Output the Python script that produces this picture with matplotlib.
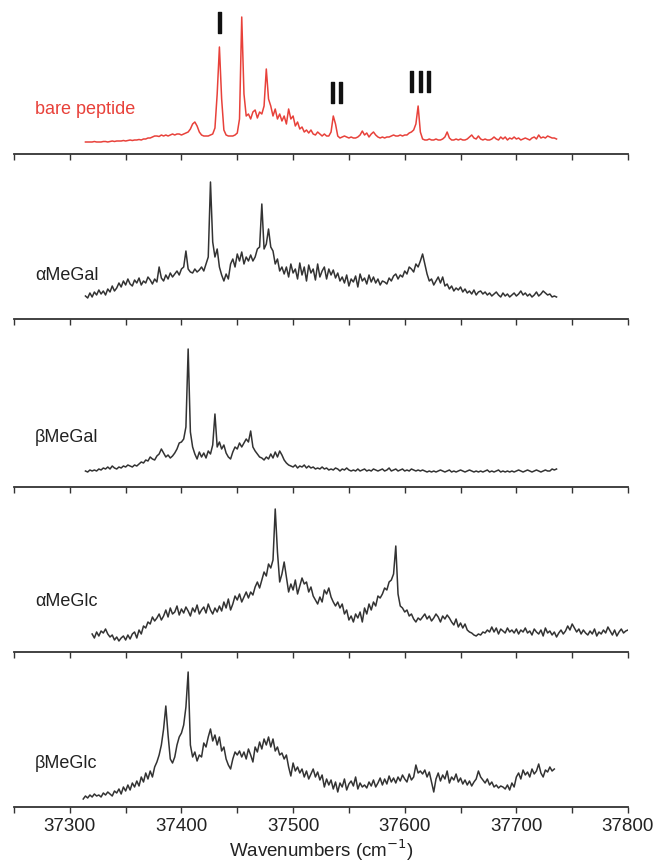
import numpy as np
import matplotlib
matplotlib.use("Agg")
import matplotlib.pyplot as plt
import matplotlib.patheffects as pe

plt.rcParams['font.family'] = ['Liberation Sans', 'DejaVu Sans']

# ---------------- data (relative intensity, arbitrary units) ----------------
labels = ["bare peptide", "\u03b1MeGal", "\u03b2MeGal", "\u03b1MeGlc", "\u03b2MeGlc"]
step = 2.0

bare_start = 37314
bare = [
    12, 12, 12, 12, 12.5, 12, 12, 12, 12.5, 12.5,      # 37314
    12, 12.5, 13, 12.5, 13, 13, 13, 13.5, 13, 13.5,    # 37334
    14, 13.5, 14, 14, 14.5, 14, 15, 15, 16, 16,        # 37354
    17, 18, 18, 17.5, 19, 18, 19, 18, 19, 20,          # 37374
    19, 20, 20, 19, 20, 21, 22, 25, 30, 32,            # 37394
    28, 22, 19, 18, 18, 18, 19, 20, 26, 60,            # 37414
    107, 55, 24, 19, 18, 18, 18, 19, 21, 35,           # 37434
    137, 60, 38, 40, 35, 42, 44, 36, 42, 40,           # 37454
    48, 85, 55, 48, 38, 45, 35, 40, 33, 38,            # 37474
    30, 45, 35, 38, 28, 32, 25, 27, 22, 24,            # 37494
    21, 24, 20, 19, 22, 20, 18, 20, 18, 18,            # 37514
    22, 38, 30, 18, 16, 17, 18, 17, 16, 17,            # 37534
    16, 16, 17, 19, 23, 19, 21, 17, 20, 22,            # 37554
    19, 17, 16, 17, 16, 17, 17, 18, 19, 18,            # 37574
    18, 19, 18, 19, 19, 21, 22, 24, 30, 48,            # 37594
    22, 15, 14, 14, 15, 14, 14, 15, 14, 14,            # 37614
    15, 17, 22, 16, 14, 14, 15, 14, 15, 14,            # 37634
    14, 15, 17, 19, 16, 15, 18, 15, 14, 15,            # 37654
    14, 14, 15, 17, 15, 14, 17, 15, 17, 14,            # 37674
    16, 15, 17, 15, 16, 14, 15, 16, 15, 14,            # 37694
    16, 17, 15, 19, 16, 17, 16, 18, 17, 16,            # 37714
    16, 15,                                            # 37734
]

agal_start = 37314
agal = [
    23, 21, 26, 22, 27, 24, 29, 25, 28, 24,   # 37314
    30, 27, 33, 28, 31, 36, 32, 38, 34, 40,   # 37334
    35, 33, 39, 36, 41, 34, 38, 36, 42, 39,   # 37354
    35, 40, 37, 52, 41, 38, 44, 40, 46, 42,   # 37374
    45, 48, 44, 50, 52, 68, 50, 47, 46, 50,   # 37394
    47, 49, 52, 48, 55, 62, 137, 77, 62, 70,  # 37414
    52, 44, 38, 45, 40, 55, 60, 52, 65, 58,   # 37434
    67, 55, 62, 58, 64, 58, 62, 70, 72, 115,  # 37454
    70, 75, 90, 72, 68, 55, 60, 48, 52, 45,   # 37474
    52, 42, 55, 46, 50, 40, 56, 44, 52, 38,   # 37494
    54, 46, 50, 39, 55, 42, 48, 52, 40, 50,   # 37514
    44, 49, 41, 46, 38, 42, 36, 44, 33, 40,   # 37534
    37, 43, 32, 45, 38, 41, 35, 44, 37, 42,   # 37554
    36, 40, 34, 38, 37, 35, 41, 38, 43, 45,   # 37574
    40, 44, 42, 48, 45, 52, 50, 47, 55, 52,   # 37594
    58, 65, 55, 45, 38, 40, 34, 38, 42, 36,   # 37614
    42, 33, 35, 30, 33, 28, 31, 29, 32, 27,   # 37634
    30, 26, 28, 25, 29, 24, 27, 28, 25, 27,   # 37654
    24, 26, 23, 25, 27, 24, 22, 26, 23, 25,   # 37674
    22, 24, 26, 23, 25, 28, 24, 26, 23, 25,   # 37694
    22, 24, 27, 23, 25, 28, 26, 24, 25, 22,   # 37714
    23, 22,                                   # 37734
]

bgal_start = 37314
bgal = [
    16, 15, 17, 16, 17, 16, 18, 17, 19, 18,   # 37314
    20, 18, 21, 19, 18, 20, 19, 21, 20, 22,   # 37334
    21, 20, 22, 21, 23, 25, 24, 27, 26, 30,   # 37354
    28, 27, 31, 33, 38, 34, 30, 32, 29, 31,   # 37374
    34, 38, 44, 45, 48, 60, 138, 55, 40, 33,  # 37394
    28, 35, 30, 34, 29, 36, 33, 42, 73, 40,   # 37414
    45, 38, 42, 34, 30, 28, 35, 40, 38, 44,   # 37434
    40, 44, 48, 45, 56, 40, 36, 33, 30, 29,   # 37454
    27, 30, 28, 33, 29, 35, 30, 36, 32, 27,   # 37474
    24, 22, 21, 20, 22, 19, 21, 20, 22, 19,   # 37494
    21, 19, 20, 18, 19, 18, 20, 18, 19, 17,   # 37514
    18, 17, 19, 18, 16, 18, 17, 19, 17, 16,   # 37534
    17, 16, 18, 16, 17, 18, 16, 17, 16, 18,   # 37554
    17, 16, 17, 18, 16, 17, 19, 16, 17, 18,   # 37574
    16, 17, 18, 16, 17, 16, 18, 17, 16, 17,   # 37594
    16, 17, 16, 15, 16, 15, 16, 15, 16, 17,   # 37614
    16, 15, 16, 17, 15, 16, 15, 16, 17, 16,   # 37634
    15, 16, 17, 16, 15, 16, 15, 16, 15, 16,   # 37654
    17, 15, 16, 15, 16, 17, 15, 16, 15, 16,   # 37674
    15, 16, 15, 16, 17, 16, 15, 16, 17, 16,   # 37694
    15, 16, 17, 16, 15, 16, 17, 16, 16, 18,   # 37714
    17, 18,                                   # 37734
]

aglc_start = 37320
aglc = [
    18, 14, 20, 16, 21, 19, 23, 18, 15, 17,    # 37320
    12, 15, 11, 14, 16, 12, 17, 13, 18, 20,    # 37340
    14, 22, 18, 26, 24, 30, 28, 35, 31, 34,    # 37360
    38, 32, 36, 42, 35, 44, 38, 40, 46, 37,    # 37380
    43, 39, 45, 41, 36, 44, 40, 47, 38, 42,    # 37400
    45, 39, 48, 42, 38, 44, 40, 46, 41, 50,    # 37420
    44, 53, 42, 48, 56, 52, 58, 50, 55, 60,    # 37440
    54, 60, 57, 65, 70, 64, 72, 80, 76, 88,    # 37460
    84, 92, 143, 100, 70, 78, 90, 75, 60, 68,  # 37480
    62, 72, 58, 66, 74, 68, 70, 60, 65, 56,    # 37500
    52, 48, 55, 50, 62, 58, 64, 55, 50, 46,    # 37520
    50, 44, 48, 38, 42, 32, 36, 30, 38, 34,    # 37540
    40, 30, 44, 38, 48, 42, 50, 46, 56, 54,    # 37560
    58, 64, 62, 70, 72, 78, 106, 58, 46, 44,   # 37580
    40, 42, 36, 38, 33, 30, 34, 32, 35, 38,    # 37600
    33, 36, 31, 34, 38, 35, 30, 36, 33, 37,    # 37620
    34, 30, 27, 33, 25, 29, 24, 28, 22, 20,    # 37640
    19, 17, 16, 18, 17, 20, 19, 22, 20, 25,    # 37660
    20, 24, 18, 23, 21, 19, 24, 20, 22, 19,    # 37680
    23, 18, 22, 20, 24, 19, 21, 17, 23, 20,    # 37700
    18, 22, 16, 24, 19, 21, 17, 20, 15, 19,    # 37720
    22, 18, 21, 26, 22, 28, 24, 20, 23, 18,    # 37740
    22, 19, 17, 21, 18, 23, 16, 20, 18, 22,    # 37760
    19, 25, 21, 17, 22, 16, 20, 23, 19, 21,    # 37780
    22,                                        # 37800
]

bglc_start = 37312
bglc = [
    8, 11, 9, 12, 10, 13, 11, 12, 10, 14,       # 37312
    12, 15, 13, 11, 16, 14, 18, 13, 20, 16,     # 37332
    22, 17, 24, 20, 26, 21, 30, 25, 34, 28,     # 37352
    36, 30, 40, 45, 52, 62, 78, 101, 72, 48,    # 37372
    44, 50, 62, 70, 74, 82, 100, 135, 62, 50,   # 37392
    55, 46, 52, 50, 64, 60, 70, 78, 66, 72,     # 37412
    62, 70, 56, 60, 48, 42, 38, 48, 55, 52,     # 37432
    56, 50, 55, 48, 58, 52, 45, 60, 55, 65,     # 37452
    58, 68, 62, 70, 60, 68, 56, 60, 52, 54,     # 37472
    48, 52, 40, 31, 44, 36, 40, 34, 38, 30,     # 37492
    36, 28, 33, 38, 30, 35, 27, 32, 20, 28,     # 37512
    22, 27, 18, 25, 15, 24, 20, 28, 17, 23,     # 37532
    26, 21, 30, 18, 24, 20, 22, 19, 25, 21,     # 37552
    27, 20, 24, 29, 22, 28, 23, 31, 25, 29,     # 37572
    24, 30, 26, 32, 28, 25, 33, 27, 30, 42,     # 37592
    34, 36, 33, 37, 30, 35, 25, 15, 28, 34,     # 37612
    26, 32, 28, 36, 24, 30, 27, 33, 25, 29,     # 37632
    23, 27, 22, 26, 21, 25, 28, 36, 30, 27,     # 37652
    24, 28, 22, 25, 20, 22, 19, 21, 20, 18,     # 37672
    22, 17, 24, 20, 30, 34, 28, 37, 32, 35,     # 37692
    30, 38, 33, 36, 43, 34, 30, 37, 35, 40,     # 37712
    36, 38,                                     # 37732
]

series = [(bare_start, bare), (agal_start, agal), (bgal_start, bgal),
          (aglc_start, aglc), (bglc_start, bglc)]
colors = ["#e8413a", "#333333", "#333333", "#333333", "#333333"]

roman_labels = ["I", "II", "III"]
roman_pos = [37434, 37539, 37614]
roman_height = [129, 59, 70]

xmin, xmax = 37250, 37800
xticks_major = [37300, 37400, 37500, 37600, 37700, 37800]
xticks_all = list(range(37250, 37801, 50))

# ---------------- layout ----------------
W, H = 655, 862
fig = plt.figure(figsize=(W / 100, H / 100), dpi=100)
fig.patch.set_facecolor("white")

axis_y_px = [155, 320, 488, 653, 808]
label_heights = [46, 45, 50, 51, 44]
panel_h = 150
left_px, right_px = 14, 628

axes = []
for i, ((start, vals), col) in enumerate(zip(series, colors)):
    yb = axis_y_px[i]
    ax = fig.add_axes([left_px / W, (H - yb) / H, (right_px - left_px) / W, panel_h / H])
    x = start + step * np.arange(len(vals))
    ax.plot(x, vals, color=col, lw=1.1)
    ax.set_xlim(xmin, xmax)
    ax.set_ylim(0, panel_h)
    for s in ["top", "right", "left"]:
        ax.spines[s].set_visible(False)
    ax.spines["bottom"].set_color("#333333")
    ax.spines["bottom"].set_linewidth(1.3)
    ax.set_yticks([])
    ax.set_xticks(xticks_all)
    ax.tick_params(axis="x", direction="out", length=4, width=1.0, color="#333333",
                   labelsize=13.5)
    ax.patch.set_alpha(0)
    if i < 4:
        ax.set_xticklabels([])
    else:
        ax.set_xticklabels([str(t) if t in xticks_major else "" for t in xticks_all])
        ax.tick_params(axis="x", pad=3, labelcolor="#222222")
        ax.set_xlabel("Wavenumbers (cm$^{-1}$)", fontsize=13.5, color="#222222", labelpad=2)
    ax.text(37269, label_heights[i], labels[i], fontsize=13,
            color=("#e8413a" if i == 0 else "#222222"), va="center", ha="left")
    axes.append(ax)

for lab, xp, yh in zip(roman_labels, roman_pos, roman_height):
    axes[0].text(xp, yh, lab, fontsize=22, fontweight="normal", color="#111111",
                 ha="center", va="center",
                 path_effects=[pe.withStroke(linewidth=1.0, foreground="#111111")])

fig.savefig("out.png", dpi=100, facecolor="white")
